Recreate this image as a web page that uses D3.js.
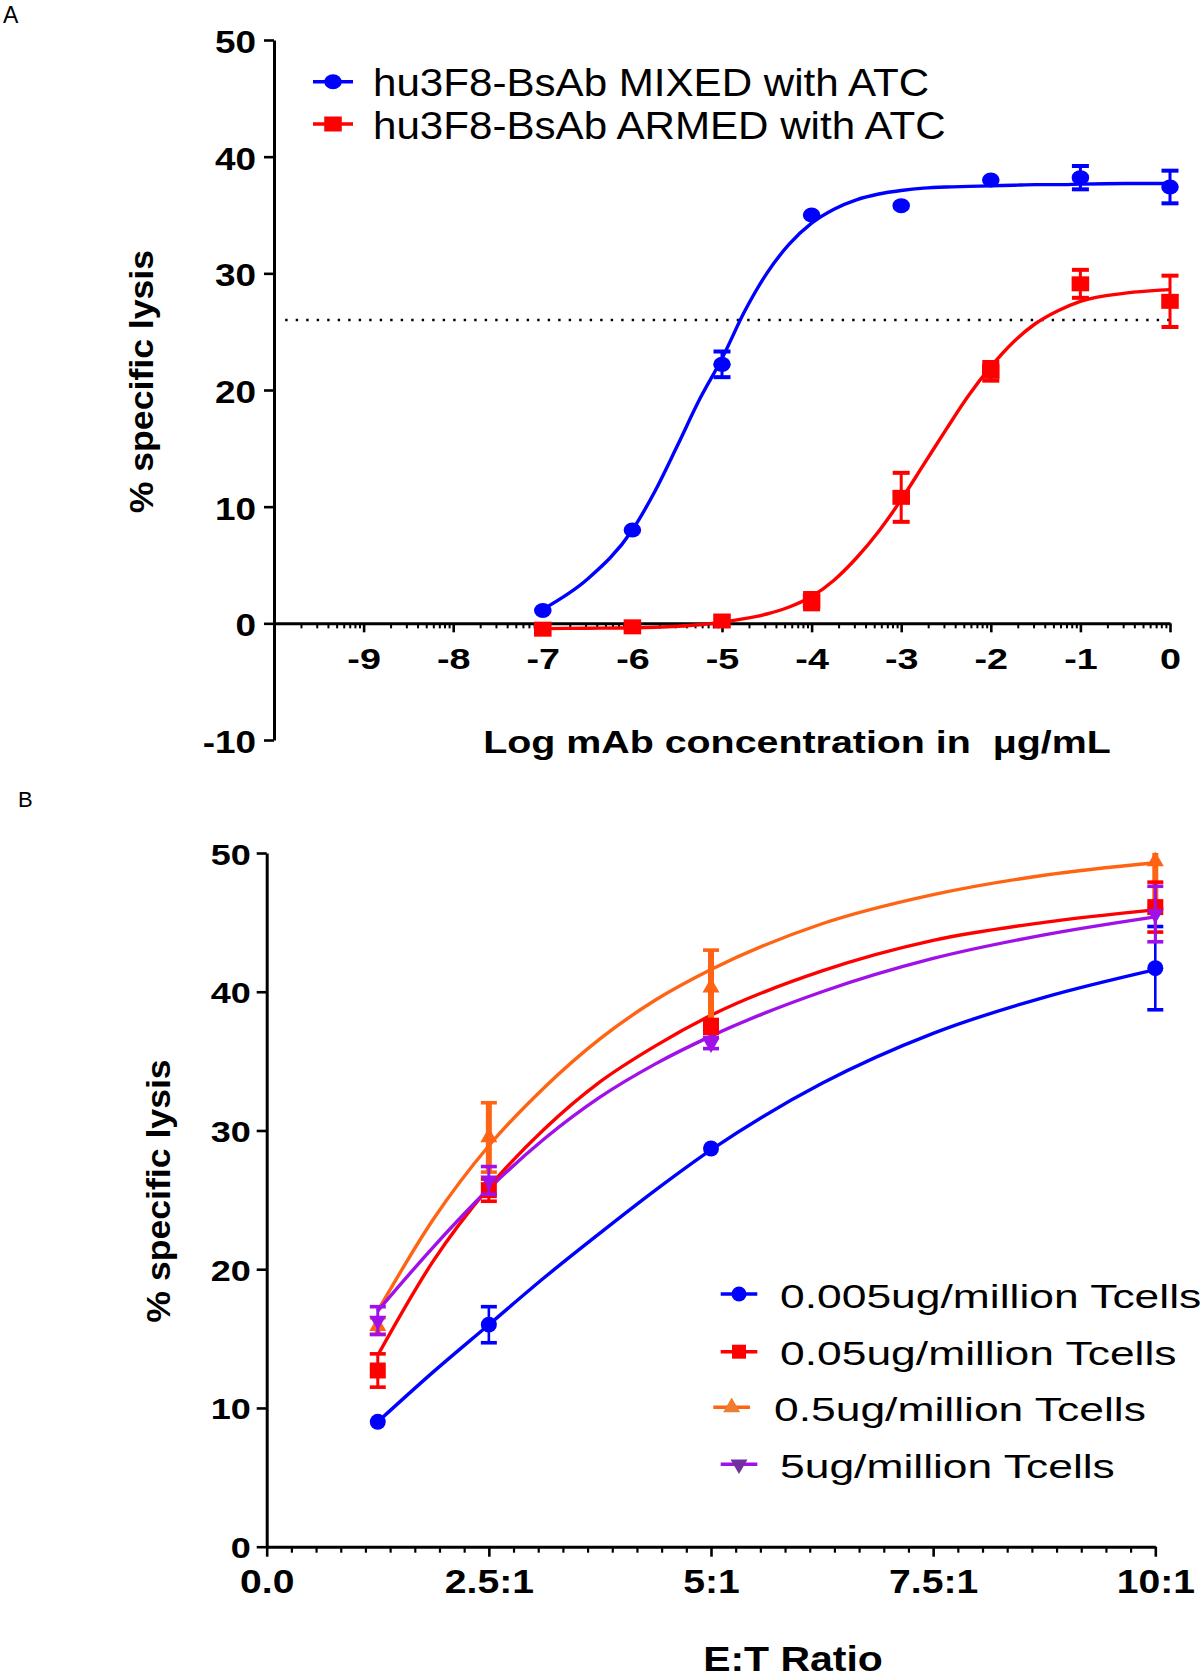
<!DOCTYPE html>
<html><head><meta charset="utf-8">
<script src="https://cdn.jsdelivr.net/npm/d3@7"></script>
<style>body{margin:0;background:#fff;} svg{display:block;background:#fff;} text{white-space:pre;}</style>
</head><body><svg id="c" width="1200" height="1678"></svg>
<script>
// ---------------- Panel A data ----------------
const aLogConc = [-7, -6, -5, -4, -3, -2, -1, 0];
const aMixed    = [1.1, 8.0, 22.2, 35.0, 35.8, 38.0, 38.2, 37.4];
const aMixedErr = [0, 0, 1.1, 0, 0, 0, 1.0, 1.4];
const aArmed    = [-0.5, -0.3, 0.2, 1.9, 10.8, 21.6, 29.1, 27.6];
const aArmedErr = [0, 0, 0, 0.7, 2.1, 0.8, 1.2, 2.2];
// fitted curves
const aFitX     = [-7, -6.5, -6, -5.75, -5.5, -5.25, -5, -4.75, -4.5, -4.25, -4, -3.75, -3.5, -3.25, -3, -2.75, -2.5, -2.25, -2, -1.75, -1.5, -1.25, -1, -0.5, 0];
const aMixedFit = [1.2, 3.8, 8.0, 11.3, 15.2, 19.2, 22.7, 26.7, 30.0, 32.5, 34.3, 35.5, 36.3, 36.8, 37.1, 37.3, 37.4, 37.45, 37.5, 37.55, 37.6, 37.6, 37.65, 37.7, 37.7];
const aArmedFit = [-0.45, -0.42, -0.38, -0.33, -0.25, -0.12, 0.1, 0.4, 0.8, 1.4, 2.3, 3.7, 5.6, 7.9, 10.6, 13.6, 16.6, 19.5, 22.0, 24.1, 25.7, 26.8, 27.6, 28.3, 28.6];
const aThreshold = 26;
const aSeriesNames = ["hu3F8-BsAb MIXED with ATC", "hu3F8-BsAb ARMED with ATC"];
const aXTicks = [-9, -8, -7, -6, -5, -4, -3, -2, -1, 0];
const aYTicks = [-10, 0, 10, 20, 30, 40, 50];
const aXTitle = "Log mAb concentration in  \u03BCg/mL";
const yTitle = "% specific lysis";

// ---------------- Panel B data ----------------
const bRatio = [1.25, 2.5, 5, 10];
const b0005 = [9.0, 16.0, 28.7, 41.7];   const b0005Err = [0, 1.3, 0, 3.0];
const b005  = [12.7, 25.7, 37.5, 46.1];  const b005Err  = [1.2, 0.8, 0.5, 1.8];
const b05   = [15.9, 29.5, 40.3, 49.4];  const b05Err   = [0.6, 2.5, 2.7, 3.4];
const b5    = [16.3, 26.4, 36.3, 45.6];  const b5Err    = [1.0, 1.0, 0.4, 2.0];
const bFitX    = [1.25, 1.875, 2.5, 3.125, 3.75, 4.375, 5, 6.25, 7.5, 8.75, 10];
const b0005Fit = [9.0, 12.6, 16.0, 19.4, 22.6, 25.7, 28.6, 33.4, 37.0, 39.6, 41.6];
const b005Fit  = [13.8, 20.6, 25.9, 30.1, 33.5, 36.1, 38.3, 41.5, 43.7, 45.0, 45.9];
const b05Fit   = [17.0, 23.6, 28.9, 33.1, 36.6, 39.4, 41.6, 44.9, 47.0, 48.4, 49.3];
const b5Fit    = [17.0, 21.6, 25.8, 29.4, 32.4, 34.8, 36.8, 40.0, 42.4, 44.1, 45.4];
const bSeriesNames = ["0.005ug/million Tcells", "0.05ug/million Tcells", "0.5ug/million Tcells", "5ug/million Tcells"];
const bXTicks = [0, 2.5, 5, 7.5, 10];
const bXTickLabels = ["0.0", "2.5:1", "5:1", "7.5:1", "10:1"];
const bYTicks = [0, 10, 20, 30, 40, 50];
const bXTitle = "E:T Ratio";

// ---------------- drawing ----------------
const FONT = '"Liberation Sans", Arial, Helvetica, sans-serif';
const svg = d3.select("#c");
const COL = {blue: "#0000FF", red: "#FF0000", orange: "#FF6414", purple: "#A010E8"};

function addText(parent, x, y, str, size, o = {}) {
  return parent.append("text")
    .attr("xml:space", "preserve")
    .attr("transform", `translate(${x},${y})` + (o.rotate ? ` rotate(${o.rotate})` : "") + ` scale(${o.sx || 1},1)`)
    .attr("font-family", FONT).attr("font-size", size)
    .attr("font-weight", o.weight || "normal")
    .attr("text-anchor", o.anchor || "start")
    .attr("fill", o.fill || "#000").text(str);
}

function marker(parent, type, x, y, color, sx, size) {
  let sym, extra = "";
  if (type === "circle") sym = d3.symbol(d3.symbolCircle, Math.PI * size * size / 4);
  else if (type === "square") sym = d3.symbol(d3.symbolSquare, size * size);
  else { sym = d3.symbol(d3.symbolTriangle, Math.sqrt(3) / 4 * size * size); if (type === "down") extra = " rotate(180)"; }
  parent.append("path").attr("d", sym())
    .attr("transform", `translate(${x},${y}) scale(${sx},1)${extra}`)
    .attr("fill", color);
}

function errBar(parent, x, v, e, color, yScale, capW, stemW, capT, yMax) {
  if (!e) return;
  const top = Math.min(v + e, yMax);
  parent.append("line").attr("x1", x).attr("x2", x)
    .attr("y1", yScale(v - e)).attr("y2", yScale(top))
    .attr("stroke", color).attr("stroke-width", stemW);
  const caps = [v - e];
  if (v + e <= yMax) caps.push(v + e);
  caps.forEach(c => parent.append("line")
    .attr("x1", x - capW / 2).attr("x2", x + capW / 2)
    .attr("y1", yScale(c)).attr("y2", yScale(c))
    .attr("stroke", color).attr("stroke-width", capT));
}

function styleAxis(g, tickW) {
  g.attr("font-family", null).attr("font-size", null);
  g.select(".domain").attr("stroke", "#000").attr("stroke-width", 3);
  g.selectAll(".tick line").attr("stroke", "#000").attr("stroke-width", tickW);
}
function styleTickText(g, dx, dy, size, sx, anchor) {
  g.selectAll(".tick text")
    .attr("x", 0).attr("y", 0).attr("dy", null)
    .attr("transform", `translate(${dx},${dy}) scale(${sx},1)`)
    .attr("font-family", FONT).attr("font-size", size).attr("font-weight", "bold")
    .attr("fill", "#000").attr("text-anchor", anchor);
}

// ======== PANEL A ========
addText(svg, 3, 23, "A", 23);
const aX = d3.scaleLinear().domain([-10, 0]).range([274, 1170]);
const aY = d3.scaleLinear().domain([-10, 50]).range([740, 40]);
const gA = svg.append("g");

// threshold dotted line
gA.append("line").attr("x1", aX(-9.875)).attr("x2", aX(0)).attr("y1", aY(aThreshold)).attr("y2", aY(aThreshold))
  .attr("stroke", "#000").attr("stroke-width", 2.6).attr("stroke-dasharray", "2.4,8.1");

// y axis
const gAy = gA.append("g").attr("transform", `translate(${aX(-10)},0)`)
  .call(d3.axisLeft(aY).tickValues(aYTicks).tickSize(10).tickSizeOuter(0).tickFormat(d => String(d)));
styleAxis(gAy, 2.6);
styleTickText(gAy, -18, 12.5, 31, 1.19, "end");

// x axis (log minor ticks)
const aMinor = [];
for (let d = -10; d < 0; d++) for (let k = 2; k <= 9; k++) aMinor.push(d + Math.log10(k));
const gAxm = gA.append("g").attr("transform", `translate(0,${aY(0)})`)
  .call(d3.axisBottom(aX).tickValues(aMinor).tickSize(5).tickFormat(() => ""));
gAxm.select(".domain").remove();
gAxm.selectAll(".tick line").attr("stroke", "#000").attr("stroke-width", 2);
const gAx = gA.append("g").attr("transform", `translate(0,${aY(0)})`)
  .call(d3.axisBottom(aX).tickValues(aXTicks).tickSize(9).tickSizeOuter(0).tickFormat(d => String(d)));
styleAxis(gAx, 2.6);
styleTickText(gAx, 0, 46, 29, 1.3, "middle");

// axis titles
addText(gA, 797, 753, aXTitle, 31, {weight: "bold", anchor: "middle", sx: 1.27});
addText(gA, 152.5, 381.6, yTitle, 33, {weight: "bold", anchor: "middle", rotate: -90, sx: 1.08});

// curves
const aLine = d3.line().x(d => aX(d[0])).y(d => aY(d[1])).curve(d3.curveMonotoneX);
gA.append("path").attr("d", aLine(aFitX.map((x, i) => [x, aMixedFit[i]])))
  .attr("fill", "none").attr("stroke", COL.blue).attr("stroke-width", 3.4);
gA.append("path").attr("d", aLine(aFitX.map((x, i) => [x, aArmedFit[i]])))
  .attr("fill", "none").attr("stroke", COL.red).attr("stroke-width", 3.4);

// points
aLogConc.forEach((x, i) => {
  errBar(gA, aX(x), aArmed[i], aArmedErr[i], COL.red, aY, 17, 3, 4, 50);
  marker(gA, "square", aX(x), aY(aArmed[i]), COL.red, 1.17, 15);
});
aLogConc.forEach((x, i) => {
  errBar(gA, aX(x), aMixed[i], aMixedErr[i], COL.blue, aY, 17, 3, 4, 50);
  marker(gA, "circle", aX(x), aY(aMixed[i]), COL.blue, 1.17, 15);
});

// legend A
const aLegY = [81.7, 124];
const aLegShapes = ["circle", "square"];
const aLegCols = [COL.blue, COL.red];
aSeriesNames.forEach((name, i) => {
  gA.append("line").attr("x1", 313).attr("x2", 353).attr("y1", aLegY[i]).attr("y2", aLegY[i])
    .attr("stroke", aLegCols[i]).attr("stroke-width", 3.4);
  marker(gA, aLegShapes[i], 333, aLegY[i], aLegCols[i], 1.17, 15);
  addText(gA, 373, aLegY[i] + 14.5, name, 39, {sx: 1.08});
});

// ======== PANEL B ========
addText(svg, 18, 807, "B", 22);
const bX = d3.scaleLinear().domain([0, 10]).range([266.7, 1155.3]);
const bY = d3.scaleLinear().domain([0, 50]).range([1546.7, 853]);
const gB = svg.append("g");

const gBy = gB.append("g").attr("transform", `translate(${bX(0)},0)`)
  .call(d3.axisLeft(bY).tickValues(bYTicks).tickSize(10).tickSizeOuter(0).tickFormat(d => String(d)));
styleAxis(gBy, 2.6);
styleTickText(gBy, -16, 11, 30, 1.2, "end");

const bMinor = d3.range(0, 37).map(i => i * 2.5 / 9).filter((v, i) => i % 9 !== 0 && v <= 10);
const gBxm = gB.append("g").attr("transform", `translate(0,${bY(0)})`)
  .call(d3.axisBottom(bX).tickValues(bMinor).tickSize(6).tickFormat(() => ""));
gBxm.select(".domain").remove();
gBxm.selectAll(".tick line").attr("stroke", "#000").attr("stroke-width", 2.2);
const gBx = gB.append("g").attr("transform", `translate(0,${bY(0)})`)
  .call(d3.axisBottom(bX).tickValues(bXTicks).tickSize(10).tickSizeOuter(0).tickFormat((d, i) => bXTickLabels[i]));
styleAxis(gBx, 2.6);
styleTickText(gBx, 0, 46.6, 32.6, 1.2, "middle");

addText(gB, 793, 1671, bXTitle, 35, {weight: "bold", anchor: "middle", sx: 1.17});
addText(gB, 169.6, 1191, yTitle, 33, {weight: "bold", anchor: "middle", rotate: -90, sx: 1.08});

// curves
const bLine = d3.line().x(d => bX(d[0])).y(d => bY(d[1])).curve(d3.curveMonotoneX);
const bSeries = [
  {v: b0005, e: b0005Err, fit: b0005Fit, col: COL.blue,   shape: "circle", stem: 2.6, legFill: COL.blue},
  {v: b005,  e: b005Err,  fit: b005Fit,  col: COL.red,    shape: "square", stem: 3,   legFill: COL.red},
  {v: b05,   e: b05Err,   fit: b05Fit,   col: COL.orange, shape: "up",     stem: 6,   legFill: "#ED7D31"},
  {v: b5,    e: b5Err,    fit: b5Fit,    col: COL.purple, shape: "down",   stem: 3,   legFill: "#7030A0"}
];
bSeries.forEach(s => {
  gB.append("path").attr("d", bLine(bFitX.map((x, i) => [x, s.fit[i]])))
    .attr("fill", "none").attr("stroke", s.col).attr("stroke-width", 3.4);
});
[0, 2, 1, 3].forEach(k => {
  const s = bSeries[k];
  bRatio.forEach((x, i) => {
    errBar(gB, bX(x), s.v[i], s.e[i], s.col, bY, 16, s.stem, 3.6, 50);
    const sz = s.shape === "circle" ? 16 : s.shape === "square" ? 16 : 17;
    marker(gB, s.shape, bX(x), bY(s.v[i]), s.col, 1.0, sz);
  });
});

// legend B
const bLegY = [1294, 1351.7, 1407.3, 1464.3];
const bLegLineX = [[720.7, 757.3], [720.7, 757.3], [713.3, 750], [720.7, 757.3]];
const bLegTextX = [780, 780, 774, 780];
bSeriesNames.forEach((name, i) => {
  const s = bSeries[i];
  const [x1, x2] = bLegLineX[i];
  gB.append("line").attr("x1", x1).attr("x2", x2).attr("y1", bLegY[i]).attr("y2", bLegY[i])
    .attr("stroke", s.col).attr("stroke-width", 3.4);
  const sz = s.shape === "circle" ? 15 : s.shape === "square" ? 14 : 17;
  marker(gB, s.shape, (x1 + x2) / 2, bLegY[i], s.legFill, 1.0, sz);
  addText(gB, bLegTextX[i], bLegY[i] + 13.6, name, 33.4, {sx: 1.33});
});
</script>
</body></html>
